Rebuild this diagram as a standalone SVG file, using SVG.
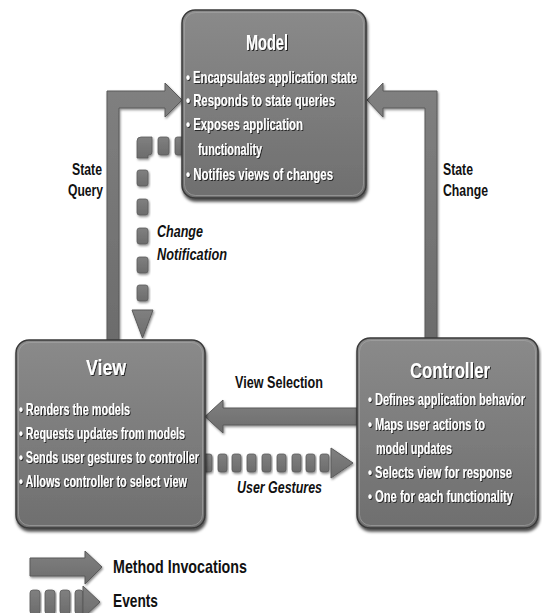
<svg xmlns="http://www.w3.org/2000/svg" width="542" height="613" viewBox="0 0 542 613">
  <defs>
    <linearGradient id="boxGrad" x1="0" y1="0" x2="0" y2="1">
      <stop offset="0" stop-color="#8a8a8a"/>
      <stop offset="1" stop-color="#6f6f6f"/>
    </linearGradient>
    <linearGradient id="arrGrad" x1="0" y1="0" x2="0" y2="1">
      <stop offset="0" stop-color="#808080"/>
      <stop offset="1" stop-color="#6c6c6c"/>
    </linearGradient>
    <filter id="boxShadow" x="-10%" y="-10%" width="120%" height="125%">
      <feDropShadow dx="1" dy="3" stdDeviation="1.8" flood-color="#000" flood-opacity="0.7"/>
    </filter>
    <filter id="txtShadow" x="-5%" y="-20%" width="110%" height="150%">
      <feDropShadow dx="1" dy="1" stdDeviation="0.6" flood-color="#1a1a1a" flood-opacity="0.9"/>
    </filter>
    <filter id="arrShadow" x="-10%" y="-10%" width="130%" height="130%">
      <feDropShadow dx="1" dy="1.5" stdDeviation="0.8" flood-color="#000" flood-opacity="0.45"/>
    </filter>
    <rect id="hdash" x="0" y="0" width="9" height="18" rx="2.5"/>
    <rect id="vdash" x="0" y="0" width="11" height="16" rx="2.5"/>
  </defs>
  <style>
    .box { fill: url(#boxGrad); stroke: #3a3a3a; stroke-width: 1.5; filter: url(#boxShadow); }
    .hl { fill: none; stroke: #a8a8a8; stroke-opacity: 0.6; stroke-width: 1; }
    .title { font-family: "Liberation Sans Narrow", "Liberation Sans", Arial, sans-serif; font-weight: bold; font-size: 22px; fill: #fff; text-anchor: middle; filter: url(#txtShadow); }
    .item { font-family: "Liberation Sans Narrow", "Liberation Sans", Arial, sans-serif; font-weight: bold; font-size: 17px; fill: #fff; filter: url(#txtShadow); }
    .lbl { font-family: "Liberation Sans Narrow", "Liberation Sans", Arial, sans-serif; font-weight: bold; font-size: 16px; fill: #111; }
    .it { font-style: italic; }
    .leg { font-family: "Liberation Sans Narrow", "Liberation Sans", Arial, sans-serif; font-weight: bold; font-size: 19px; fill: #111; }
    .arr { fill: url(#arrGrad); stroke: #5a5a5a; stroke-width: 1; filter: url(#arrShadow); }
    .dash { fill: url(#arrGrad); stroke: #5a5a5a; stroke-width: 0.8; filter: url(#arrShadow); }
  </style>
  <rect x="0" y="0" width="542" height="613" fill="#fff"/>

  <g id="connectors">
    <g id="state-query">
      <path class="arr" d="M107,340 L107,91 L165,91 L165,83 L182,100 L165,117 L165,108 L119,108 L119,340 Z"/>
    </g>
    <g id="state-change">
      <path class="arr" d="M437,338 L437,91 L383,91 L383,83 L367,100 L383,117 L383,108 L425,108 L425,338 Z"/>
    </g>
    <g id="view-selection">
      <path class="arr" d="M357,408 L223,408 L223,400 L205,416.5 L223,433 L223,425 L357,425 Z"/>
    </g>
    <g id="change-notification">
      <path class="dash" d="M141,137 L152,137 L152,152 Q152,155 149,155 L148,155 L148,158 L137,158 L137,141 Q137,137 141,137 Z"/>
      <rect class="dash" x="158" y="137" width="11" height="18" rx="2.5"/>
      <rect class="dash" x="175" y="137" width="11" height="18" rx="2.5"/>
      <use href="#vdash" class="dash" x="137" y="170"/>
      <use href="#vdash" class="dash" x="137" y="199"/>
      <use href="#vdash" class="dash" x="137" y="228"/>
      <use href="#vdash" class="dash" x="137" y="257"/>
      <use href="#vdash" class="dash" x="137" y="285"/>
      <path class="arr" d="M132,310 L153,310 L142.5,338 Z"/>
    </g>
    <g id="user-gestures">
      <use href="#hdash" class="dash" x="203" y="454"/>
      <use href="#hdash" class="dash" x="218" y="454"/>
      <use href="#hdash" class="dash" x="232" y="454"/>
      <use href="#hdash" class="dash" x="247" y="454"/>
      <use href="#hdash" class="dash" x="262" y="454"/>
      <use href="#hdash" class="dash" x="277" y="454"/>
      <use href="#hdash" class="dash" x="292" y="454"/>
      <use href="#hdash" class="dash" x="306" y="454"/>
      <use href="#hdash" class="dash" x="320" y="454"/>
      <path class="arr" d="M331,448 L353,463 L331,478 Z"/>
    </g>
  </g>

  <g id="model">
    <rect class="box" x="182" y="10" width="184" height="188" rx="13"/>
    <rect class="hl" x="184.5" y="12.5" width="179" height="183" rx="11"/>
    <text class="title" x="267" y="50" textLength="42" lengthAdjust="spacingAndGlyphs">Model</text>
    <text class="item" x="186" y="83" textLength="171" lengthAdjust="spacingAndGlyphs">• Encapsulates application state</text>
    <text class="item" x="186" y="106" textLength="149" lengthAdjust="spacingAndGlyphs">• Responds to state queries</text>
    <text class="item" x="186" y="130" textLength="117" lengthAdjust="spacingAndGlyphs">• Exposes application</text>
    <text class="item" x="198" y="155" textLength="64" lengthAdjust="spacingAndGlyphs">functionality</text>
    <text class="item" x="186" y="180" textLength="147" lengthAdjust="spacingAndGlyphs">• Notifies views of changes</text>
  </g>

  <g id="view">
    <rect class="box" x="16" y="340" width="189" height="188" rx="13"/>
    <rect class="hl" x="18.5" y="342.5" width="184" height="183" rx="11"/>
    <text class="title" x="106" y="375" textLength="40" lengthAdjust="spacingAndGlyphs">View</text>
    <text class="item" x="19" y="415" textLength="111" lengthAdjust="spacingAndGlyphs">• Renders the models</text>
    <text class="item" x="19" y="439" textLength="166" lengthAdjust="spacingAndGlyphs">• Requests updates from models</text>
    <text class="item" x="19" y="463" textLength="180" lengthAdjust="spacingAndGlyphs">• Sends user gestures to controller</text>
    <text class="item" x="19" y="487" textLength="168" lengthAdjust="spacingAndGlyphs">• Allows controller to select view</text>
  </g>

  <g id="controller">
    <rect class="box" x="357" y="338" width="181" height="190" rx="13"/>
    <rect class="hl" x="359.5" y="340.5" width="176" height="185" rx="11"/>
    <text class="title" x="450" y="378" textLength="80" lengthAdjust="spacingAndGlyphs">Controller</text>
    <text class="item" x="368" y="405" textLength="157" lengthAdjust="spacingAndGlyphs">• Defines application behavior</text>
    <text class="item" x="368" y="430" textLength="117" lengthAdjust="spacingAndGlyphs">• Maps user actions to</text>
    <text class="item" x="376" y="454" textLength="76" lengthAdjust="spacingAndGlyphs">model updates</text>
    <text class="item" x="368" y="478" textLength="144" lengthAdjust="spacingAndGlyphs">• Selects view for response</text>
    <text class="item" x="368" y="502" textLength="145" lengthAdjust="spacingAndGlyphs">• One for each functionality</text>
  </g>

  <g id="labels">
    <text class="lbl" x="72" y="175" textLength="30" lengthAdjust="spacingAndGlyphs">State</text>
    <text class="lbl" x="68" y="196" textLength="35" lengthAdjust="spacingAndGlyphs">Query</text>
    <text class="lbl" x="443" y="175" textLength="30" lengthAdjust="spacingAndGlyphs">State</text>
    <text class="lbl" x="443" y="196" textLength="45" lengthAdjust="spacingAndGlyphs">Change</text>
    <text class="lbl it" x="157" y="237" textLength="46" lengthAdjust="spacingAndGlyphs">Change</text>
    <text class="lbl it" x="157" y="260" textLength="70" lengthAdjust="spacingAndGlyphs">Notification</text>
    <text class="lbl" x="235" y="388" textLength="88" lengthAdjust="spacingAndGlyphs">View Selection</text>
    <text class="lbl it" x="237" y="493" textLength="85" lengthAdjust="spacingAndGlyphs">User Gestures</text>
  </g>

  <g id="legend">
    <path class="arr" d="M30,558 L85,558 L85,551 L102,567 L85,584 L85,576 L30,576 Z"/>
    <rect class="dash" x="30" y="590" width="10" height="24" rx="3"/>
    <rect class="dash" x="45" y="590" width="10" height="24" rx="3"/>
    <rect class="dash" x="60" y="590" width="10" height="24" rx="3"/>
    <rect class="dash" x="75" y="590" width="8" height="24" rx="3"/>
    <path class="arr" d="M83,586 L100,602 L83,618 Z"/>
    <text class="leg" x="113" y="573" textLength="134" lengthAdjust="spacingAndGlyphs">Method Invocations</text>
    <text class="leg" x="113" y="607" textLength="45" lengthAdjust="spacingAndGlyphs">Events</text>
  </g>
</svg>
